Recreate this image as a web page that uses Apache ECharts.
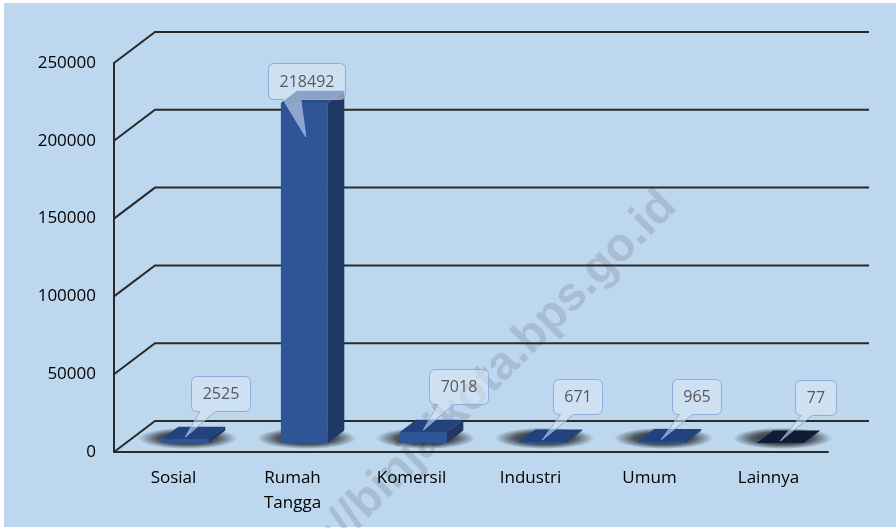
<!DOCTYPE html>
<html><head><meta charset="utf-8">
<script src="https://cdn.jsdelivr.net/npm/echarts@6/dist/echarts.min.js"></script>
<style>html,body{margin:0;padding:0;background:#fff;}#c{width:896px;height:528px;}</style>
</head><body><div id="c"></div>
<script>
// ---- data ----
const categories = ['Sosial', 'Rumah Tangga', 'Komersil', 'Industri', 'Umum', 'Lainnya'];
const values = [2525, 218492, 7018, 671, 965, 77];
const yTicks = [0, 50000, 100000, 150000, 200000, 250000];

// ---- style ----
const DX = 41, DY = 31;            // perspective depth of the floor / walls
const FONT = "'Open Sans', 'Noto Sans', sans-serif";
const FRONT = '#2F5597', SIDE = '#203864';
const TOPS = ['#21427C', '#2A4D89', '#21427C', '#21427C', '#21427C', '#0F1C36'];
const LINE = '#2a2a2a';

const mctx = document.createElement('canvas').getContext('2d');
function textW(t, font) { mctx.font = font; return mctx.measureText(t).width; }

function renderGrid(params, api) {
  const cs = params.coordSys;
  const y = api.coord([0, api.value(1)])[1];
  const x0 = cs.x, x1 = cs.x + cs.width;
  return {
    type: 'polyline',
    shape: { points: [[x0, y], [x0 + DX, y - DY], [x1 + DX, y - DY]] },
    style: { stroke: LINE, lineWidth: 2, fill: null },
    silent: true
  };
}

function renderBar(params, api) {
  const i = api.value(0), v = api.value(1);
  const base = api.coord([i, 0]);
  const top = api.coord([i, v]);
  const cw = api.size([1, 0])[0];
  const w = cw * 0.395;
  const f0 = 0.29, fd = 0.4;
  const ox = DX * f0, oy = DY * f0, ddx = DX * fd, ddy = DY * fd;
  const cx = base[0] + ox;
  const xl = cx - w / 2, xr = cx + w / 2;
  const yb = base[1] - oy, yt = top[1] - oy;
  const ch = [];
  // soft shadow on the floor (elliptical radial fade)
  const scx = cx + ddx / 2 - 6, scy = yb - ddy / 2 + 1.5;
  const rx = w / 2 + ddx / 2 + 18, ry = ddy / 2 + 4.5;
  ch.push({
    type: 'circle',
    shape: { cx: scx, cy: scy, r: rx },
    scaleY: ry / rx, originX: scx, originY: scy,
    style: { fill: { type: 'radial', x: 0.5, y: 0.5, r: 0.5, colorStops: [
      { offset: 0, color: 'rgba(0,0,0,0.85)' }, { offset: 0.6, color: 'rgba(0,0,0,0.6)' }, { offset: 1, color: 'rgba(0,0,0,0)' }] } },
    silent: true
  });
  ch.push({ type: 'polygon', shape: { points: [[xr, yt], [xr + ddx, yt - ddy], [xr + ddx, yb - ddy], [xr, yb]] }, style: { fill: SIDE }, silent: true });
  ch.push({ type: 'polygon', shape: { points: [[xl, yt], [xr, yt], [xr, yb], [xl, yb]] }, style: { fill: FRONT }, silent: true });
  ch.push({ type: 'polygon', shape: { points: [[xl, yt], [xr, yt], [xr + ddx, yt - ddy], [xl + ddx, yt - ddy]] }, style: { fill: TOPS[params.dataIndex] }, silent: true });

  // callout
  const label = String(v);
  const font = '16px ' + FONT;
  const bw = textW(label, font) + 22;
  let bh = 35, tip, bcx, bcy, b1f, b2f;
  const tall = (base[1] - top[1]) > params.coordSys.height * 0.5;
  if (tall) {
    bh = 36; tip = [cx + 1.5, yt + 34]; bcx = cx + 2; bcy = yt - 22.5; b1f = 0.19; b2f = 0.42;
  } else {
    tip = [cx, yt - 2]; bcx = cx + 35; bcy = tip[1] - 26 - bh / 2; b1f = 0.14; b2f = 0.41;
  }
  const x0 = Math.round(bcx - bw / 2) + 0.5, x1 = Math.round(bcx + bw / 2) + 0.5;
  const y0 = Math.round(bcy - bh / 2) + 0.5, y1 = Math.round(bcy + bh / 2) + 0.5;
  const r = 6;
  const b1 = x0 + b1f * bw, b2 = x0 + b2f * bw;
  const d = `M${x0 + r},${y0} L${x1 - r},${y0} Q${x1},${y0} ${x1},${y0 + r} L${x1},${y1 - r} Q${x1},${y1} ${x1 - r},${y1} ` +
            `L${b2},${y1} L${tip[0]},${tip[1]} L${b1},${y1} L${x0 + r},${y1} Q${x0},${y1} ${x0},${y1 - r} L${x0},${y0 + r} Q${x0},${y0} ${x0 + r},${y0} Z`;
  ch.push({ type: 'path', shape: { pathData: d }, style: { fill: 'rgba(220,233,248,0.55)', stroke: '#8FAADC', lineWidth: 1 }, silent: true });
  ch.push({ type: 'text', style: { text: label, x: (x0 + x1) / 2, y: (y0 + y1) / 2 + 0.5, align: 'center', verticalAlign: 'middle', textAlign: 'center', textVerticalAlign: 'middle', font: font, fill: '#595959' }, silent: true });
  return { type: 'group', children: ch };
}

const chart = echarts.init(document.getElementById('c'), null, { renderer: 'canvas' });
chart.setOption({
  animation: false,
  backgroundColor: '#ffffff',
  graphic: [
    { type: 'rect', left: 4, top: 3, shape: { width: 892, height: 524 }, style: { fill: '#BDD7EE' }, z: -100, silent: true },
    { type: 'text', x: 467, y: 401, rotation: 45 * Math.PI / 180,
      style: { text: 'http://binjaikota.bps.go.id', font: 'bold 47px "Liberation Sans", Arial, sans-serif', fill: 'rgba(110,120,135,0.27)', align: 'center', verticalAlign: 'middle', textAlign: 'center', textVerticalAlign: 'middle' },
      z: -50, silent: true }
  ],
  grid: { left: 114, right: 68, top: 63, bottom: 76, containLabel: false },
  xAxis: {
    type: 'category', data: categories, boundaryGap: true,
    axisLine: { show: true, lineStyle: { color: LINE, width: 2 } },
    axisTick: { show: false },
    axisLabel: { color: '#000', fontFamily: FONT, fontSize: 17, margin: 14, lineHeight: 25, interval: 0,
      formatter: s => s.replace(' ', '\n') },
    splitLine: { show: false }
  },
  yAxis: {
    type: 'value', min: 0, max: 250000, interval: 50000,
    axisLine: { show: true, lineStyle: { color: LINE, width: 2 } },
    axisTick: { show: false },
    axisLabel: { color: '#000', fontFamily: FONT, fontSize: 17, margin: 18, padding: [3, 0, 0, 0], formatter: v => String(v) },
    splitLine: { show: false }
  },
  series: [
    { type: 'custom', renderItem: renderGrid, data: yTicks.map(t => [0, t]), z: 1, silent: true, clip: false },
    { type: 'custom', renderItem: renderBar, data: values.map((v, i) => [i, v]), z: 3, silent: true, clip: false }
  ]
});
</script></body></html>
